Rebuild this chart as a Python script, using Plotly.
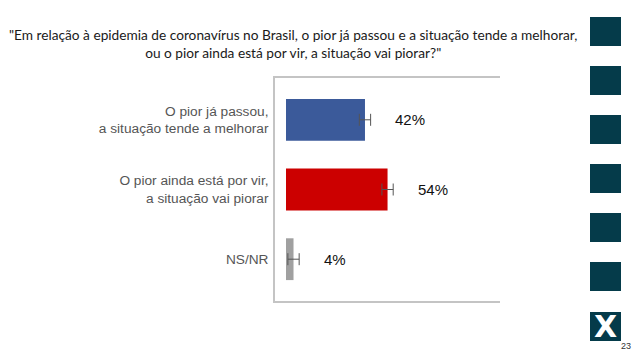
import plotly.graph_objects as go

categories = ["O pior já passou,<br>a situação tende a melhorar",
              "O pior ainda está por vir,<br>a situação vai piorar",
              "NS/NR"]
values = [42, 54, 4]
errors = [3, 3, 3]
labels = ["42%", "54%", "4%"]
colors = ["#3B5A9A", "#CC0000", "#A0A0A0"]

title_text = ('"Em relação à epidemia de coronavírus no Brasil, o pior já passou e a situação tende a melhorar,'
              '<br>ou o pior ainda está por vir, a situação vai piorar?"')

fig = go.Figure()
fig.add_trace(go.Bar(
    x=values, y=categories, orientation="h",
    marker=dict(color=colors, line=dict(width=0)),
    width=0.6,
    error_x=dict(type="data", array=errors, color="#555555", thickness=1, width=6),
    hoverinfo="skip",
))

for c, v, t in zip(categories, values, labels):
    fig.add_annotation(x=v, y=c, text=t, showarrow=False, xanchor="left",
                       xshift=28, font=dict(family="Arial, Liberation Sans", size=15, color="#111111"))

fig.update_layout(
    width=638, height=359,
    margin=dict(l=275, r=138, t=78, b=58),
    paper_bgcolor="white", plot_bgcolor="white",
    showlegend=False,
    xaxis=dict(range=[-5.85, 113.8], showgrid=False, zeroline=False, showticklabels=False,
               showline=True, mirror=True, linecolor="#C4C4C4", linewidth=1.5, fixedrange=True),
    yaxis=dict(range=[2.6, -0.6], showgrid=False, zeroline=False, ticks="",
               showline=True, linecolor="#C4C4C4", linewidth=1.5,
               tickfont=dict(family="Arial, Liberation Sans", size=13.7, color="#555555"),
               ticklabelstandoff=2, fixedrange=True),
)

fig.add_annotation(xref="paper", yref="paper", x=(293 - 275) / 225, y=1 + (78 - 43) / 223,
                   text=title_text, showarrow=False, xanchor="center", yanchor="middle",
                   font=dict(family="Lato, Carlito, sans-serif", size=13.7, color="#1a1a1a"),
                   align="center")

# decorative squares on the right
sq_tops = [17, 66, 115, 164, 213, 262, 312]
for i, t in enumerate(sq_tops):
    fig.add_shape(type="rect", xref="paper", yref="paper",
                  x0=(590 - 275) / 225, x1=(621 - 275) / 225,
                  y0=(301 - (t + 29)) / 223, y1=(301 - t) / 223,
                  fillcolor="#053B4A", line=dict(width=0), layer="above")
fig.add_annotation(xref="paper", yref="paper", x=(605.5 - 275) / 225, y=(301 - 326) / 223,
                   text="<b>X</b>", showarrow=False, xanchor="center", yanchor="middle",
                   font=dict(family="Arial Black, DejaVu Sans", size=30, color="white"))
fig.add_annotation(xref="paper", yref="paper", x=(626 - 275) / 225, y=(301 - 346) / 223,
                   text="23", showarrow=False, xanchor="center", yanchor="middle",
                   font=dict(family="Arial, Liberation Sans", size=9, color="#333333"))

fig.write_html("out.html", config={"displayModeBar": False},
               post_script="document.body.style.margin='0';")
